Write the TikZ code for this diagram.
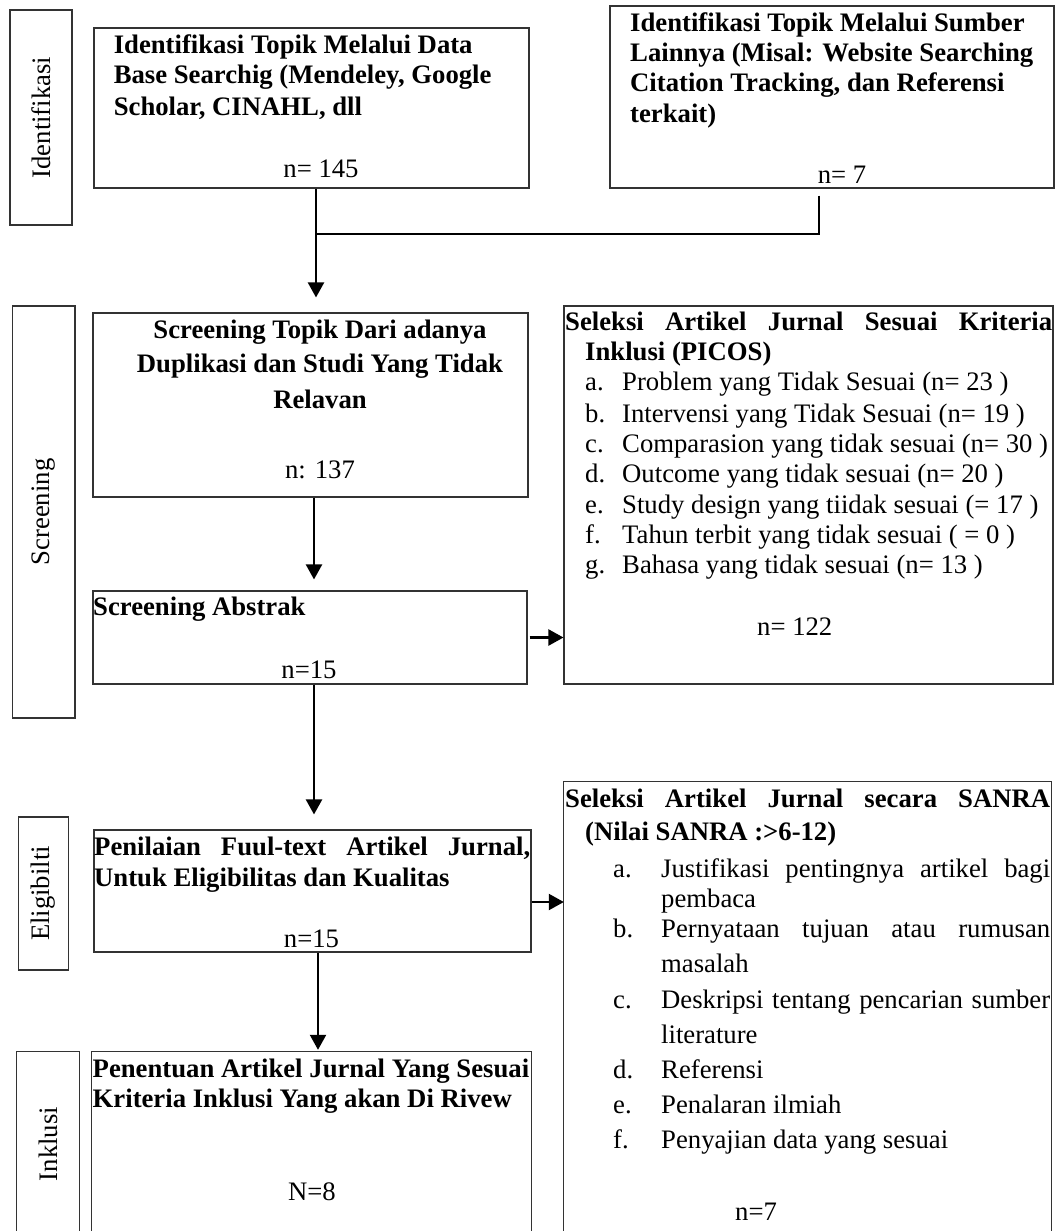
\documentclass[tikz,border=0pt]{standalone}
\usepackage{fontspec}
\setmainfont{Liberation Serif}
\usetikzlibrary{arrows.meta}
\newcommand\fsz{\fontsize{26.7}{31}\selectfont}
\newcommand\bfz{\fontsize{26.7}{31}\selectfont\bfseries}
\begin{document}
\begin{tikzpicture}[x=1pt,y=-1pt,
  box/.style={draw=black!80, line width=1.1pt, inner sep=0pt},
  ghost/.style={inner sep=0pt},
  openedge/.style={draw=black!80, line width=1.1pt},
  flow/.style={line width=2.2pt, -{Triangle[length=15pt,width=16pt]}},
  link/.style={line width=2.2pt},
  tl/.style={inner sep=0pt, anchor=base west, font=\fsz},
  tc/.style={inner sep=0pt, anchor=base, font=\fsz},
  side/.style={inner sep=0pt, rotate=90, font=\fsz}]
\useasboundingbox (0,0) rectangle (1057,1231);
\fill[white] (0,0) rectangle (1057,1231);

% phase labels
\node[box, minimum width=62pt, minimum height=215pt] (l1) at (41,117.5) {};
\node[side] (l1t) at (l1.center) {Identifikasi};
\node[box, minimum width=62.5pt, minimum height=412pt] (l2) at (43.75,512) {};
\node[side] (l2t) at (l2.center) {Screening};
\node[box, minimum width=50pt, minimum height=153pt] (l3) at (43.45,893.5) {};
\node[side] (l3t) at (l3.center) {Eligibilti};
\node[ghost, minimum width=62pt, minimum height=179pt] (l4) at (48,1141.5) {};
\draw[openedge] (l4.south west) |- (l4.north east) -- (l4.south east);
\node[side] (l4t) at (48,1144) {Inklusi};

% boxes
\node[box, minimum width=435pt, minimum height=160pt] (b1) at (311.5,108) {};
\node[box, minimum width=444pt, minimum height=182pt] (b2) at (832,97) {};
\node[box, minimum width=435pt, minimum height=184pt] (b3) at (310.5,405) {};
\node[box, minimum width=434pt, minimum height=93pt] (b4) at (310,637.5) {};
\node[box, minimum width=489pt, minimum height=378pt] (b5) at (808.5,495) {};
\node[box, minimum width=437pt, minimum height=122pt] (b6) at (312.5,891) {};
\node[ghost, minimum width=439pt, minimum height=179pt] (b7) at (311.5,1141.5) {};
\draw[openedge] (b7.south west) |- (b7.north east) -- (b7.south east);
\node[ghost, minimum width=487pt, minimum height=449pt] (b8) at (807.5,1006.5) {};
\draw[openedge] (b8.south west) |- (b8.north east) -- (b8.south east);

% box 1
\node[tl, font=\bfz] (t1a) at (113.6,53) {Identifikasi Topik Melalui Data};
\node[tl, font=\bfz] (t1b) at (113.6,84) {Base Searchig (Mendeley, Google};
\node[tl, font=\bfz] (t1c) at (113.6,115) {Scholar, CINAHL, dll};
\node[tc] (n1) at (321,177) {n= 145};

% box 2
\node[tl, font=\bfz] (t2a) at (630,32) {Identifikasi Topik Melalui Sumber};
\node[tl, font=\bfz] (t2b) at (630,62) {Lainnya (Misal: Website Searching};
\node[tl, font=\bfz] (t2c) at (630,92) {Citation Tracking, dan Referensi};
\node[tl, font=\bfz] (t2d) at (630,122) {terkait)};
\node[tc] (n2) at (842,183) {n= 7};

% box 3
\node[tc, font=\bfz] (t3a) at (320,338) {Screening Topik Dari adanya};
\node[tc, font=\bfz] (t3b) at (320,372) {Duplikasi dan Studi Yang Tidak};
\node[tc, font=\bfz] (t3c) at (320,408) {Relavan};
\node[tc] (n3) at (320,478) {n: 137};

% box 4
\node[tl, font=\bfz] (t4a) at (93,615) {Screening Abstrak};
\node[tc] (n4) at (309,678) {n=15};

% box 5
\node[tl, font=\bfz] (t5a) at (565,330) {\makebox[487pt][s]{Seleksi Artikel Jurnal Sesuai Kriteria}};
\node[tl, font=\bfz] (t5b) at (585,360) {Inklusi (PICOS)};
\node[tl] (t5la) at (585,390) {a.};
\node[tl] (t5xa) at (622,390) {Problem yang Tidak Sesuai (n= 23 )};
\node[tl] (t5lb) at (585,422) {b.};
\node[tl] (t5xb) at (622,422) {Intervensi yang Tidak Sesuai (n= 19 )};
\node[tl] (t5lc) at (585,452) {c.};
\node[tl] (t5xc) at (622,452) {Comparasion yang tidak sesuai (n= 30 )};
\node[tl] (t5ld) at (585,482) {d.};
\node[tl] (t5xd) at (622,482) {Outcome yang tidak sesuai (n= 20 )};
\node[tl] (t5le) at (585,513) {e.};
\node[tl] (t5xe) at (622,513) {Study design yang tiidak sesuai (= 17 )};
\node[tl] (t5lf) at (585,543) {f.};
\node[tl] (t5xf) at (622,543) {Tahun terbit yang tidak sesuai ( = 0 )};
\node[tl] (t5lg) at (585,573) {g.};
\node[tl] (t5xg) at (622,573) {Bahasa yang tidak sesuai (n= 13 )};
\node[tl] (n5) at (757,635) {n= 122};

% box 6
\node[tl, font=\bfz] (t6a) at (94,855) {\makebox[436pt][s]{Penilaian Fuul-text Artikel Jurnal,}};
\node[tl, font=\bfz] (t6b) at (94,886) {Untuk Eligibilitas dan Kualitas};
\node[tc] (n6) at (311.5,947) {n=15};

% box 7
\node[tl, font=\bfz] (t7a) at (92.5,1077) {\makebox[436.5pt][s]{Penentuan Artikel Jurnal Yang Sesuai}};
\node[tl, font=\bfz] (t7b) at (92.5,1107) {Kriteria Inklusi Yang akan Di Rivew};
\node[tc] (n7) at (312,1200) {N=8};

% box 8
\node[tl, font=\bfz] (t8a) at (565,807) {\makebox[485pt][s]{Seleksi Artikel Jurnal secara SANRA}};
\node[tl, font=\bfz] (t8b) at (585,840) {(Nilai SANRA :>6-12)};
\node[tl] (t8la) at (613,877) {a.};
\node[tl] (t8xa) at (661,877) {\makebox[389pt][s]{Justifikasi pentingnya artikel bagi}};
\node[tl] (t8xa2) at (661,907) {pembaca};
\node[tl] (t8lb) at (613,937) {b.};
\node[tl] (t8xb) at (661,937) {\makebox[389pt][s]{Pernyataan tujuan atau rumusan}};
\node[tl] (t8xb2) at (661,972) {masalah};
\node[tl] (t8lc) at (613,1008) {c.};
\node[tl] (t8xc) at (661,1008) {\makebox[389pt][s]{Deskripsi tentang pencarian sumber}};
\node[tl] (t8xc2) at (661,1043) {literature};
\node[tl] (t8ld) at (613,1078) {d.};
\node[tl] (t8xd) at (661,1078) {Referensi};
\node[tl] (t8le) at (613,1113) {e.};
\node[tl] (t8xe) at (661,1113) {Penalaran ilmiah};
\node[tl] (t8lf) at (613,1148) {f.};
\node[tl] (t8xf) at (661,1148) {Penyajian data yang sesuai};
\node[tl] (n8) at (735,1220) {n=7};

% connectors
\coordinate (j) at (316,234);
\draw[flow] ([xshift=4.5pt]b1.south) -- ([xshift=5.5pt,yshift=15pt]b3.north);
\draw[link] ([xshift=-13pt,yshift=-7pt]b2.south) |- (j);
\draw[flow] ([xshift=3.5pt]b3.south) -- ([xshift=4pt,yshift=11pt]b4.north);
\draw[flow] ([xshift=4pt]b4.south) -- ([xshift=1.5pt,yshift=15pt]b6.north);
\draw[flow] ([xshift=5.5pt]b6.south) -- ([xshift=6.5pt,yshift=2pt]b7.north);
\draw[flow] ([xshift=2pt]b4.east) -- (b4.east -| b5.west);
\coordinate (a6) at ([yshift=-11pt]b6.east);
\draw[flow] (a6) -- (a6 -| b8.west);
\end{tikzpicture}
\end{document}
